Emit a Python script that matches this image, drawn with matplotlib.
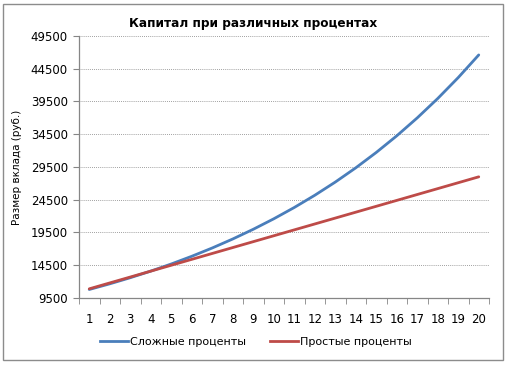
import matplotlib.pyplot as plt
from matplotlib.lines import Line2D
from matplotlib.patches import Rectangle

# Data
years = list(range(1, 21))
compound = [10800, 11664, 12597, 13605, 14693, 15869, 17138, 18509, 19990, 21589,
            23316, 25182, 27196, 29372, 31722, 34259, 37000, 39960, 43157, 46610]
simple = [10900, 11800, 12700, 13600, 14500, 15400, 16300, 17200, 18100, 19000,
          19900, 20800, 21700, 22600, 23500, 24400, 25300, 26200, 27100, 28000]
y_ticks = [9500, 14500, 19500, 24500, 29500, 34500, 39500, 44500, 49500]

title = "Капитал при различных процентах"
y_label = "Размер вклада (руб.)"
labels = ["Сложные проценты", "Простые проценты"]
colors = ["#4A7EBB", "#BE4B48"]

fig = plt.figure(figsize=(5.08, 3.65), dpi=100)
W, H = 508, 365
ax = fig.add_axes([79 / W, 1 - 298 / H, (489 - 79) / W, (298 - 36) / H])

# outer chart border
fig.patches.append(Rectangle((3 / W, 5 / H), 500 / W, 356 / H, transform=fig.transFigure,
                             fill=False, edgecolor="#8c8c8c", linewidth=1.0))

ax.plot(years, compound, color=colors[0], linewidth=2.0, solid_capstyle="round")
ax.plot(years, simple, color=colors[1], linewidth=2.0, solid_capstyle="round")

ax.set_xlim(0.5, 20.5)
ax.set_ylim(9500, 49500)
ax.set_yticks(y_ticks)
ax.set_xticks(years)
ax.set_xticks([y + 0.5 for y in range(0, 21)], minor=True)
ax.tick_params(axis="x", which="major", length=0, pad=11, labelsize=8.5)
ax.tick_params(axis="x", which="minor", length=4, color="#868686", direction="out")
ax.tick_params(axis="y", length=4, color="#868686", labelsize=8.5, pad=4)

ax.grid(axis="y", linestyle=(0, (1, 1.5)), color="#808080", linewidth=0.6)
ax.set_axisbelow(True)
for s in ["top", "right"]:
    ax.spines[s].set_visible(False)
for s in ["left", "bottom"]:
    ax.spines[s].set_color("#868686")
    ax.spines[s].set_linewidth(0.9)

fig.text(253 / W, 1 - 24 / H, title, ha="center", va="center",
         fontsize=8.7, fontweight="bold")
fig.text(17 / W, 1 - 167 / H, y_label, ha="center", va="center",
         rotation=90, fontsize=7.5)

handles = [Line2D([], [], color=c, linewidth=2.0) for c in colors]
fig.legend(handles, labels, loc="center", bbox_to_anchor=(256 / W, 1 - 342 / H),
           ncol=2, frameon=False, fontsize=8, handlelength=2.5, handletextpad=0.2,
           columnspacing=2.2)

fig.savefig("out.png", dpi=100)
